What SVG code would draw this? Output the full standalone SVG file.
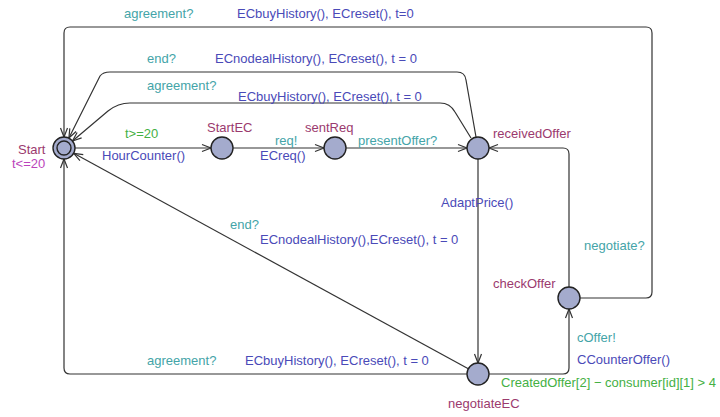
<svg xmlns="http://www.w3.org/2000/svg" width="720" height="417" viewBox="0 0 720 417">
<style>
text{font-family:"Liberation Sans",Arial,sans-serif;font-size:13px}
.loc{fill:#9b3a6e}
.inv{fill:#bb44bb}
.sync{fill:#44a4a8}
.upd{fill:#4a4ab8}
.grd{fill:#44b044}
.edge{fill:none;stroke:#333;stroke-width:1.2}
.node{fill:#a4abcd;stroke:#222;stroke-width:1.4}
</style>
<defs>
<marker id="arr" markerWidth="12" markerHeight="10" refX="0" refY="0" viewBox="-10 -5 12 10" orient="auto" markerUnits="userSpaceOnUse">
<path d="M-9,-3.5 L0,0 L-9,3.5" fill="none" stroke="#333" stroke-width="1.2"/>
</marker>
</defs>
<rect width="720" height="417" fill="#fff"/>
<g id="connectors">
<path class="edge" marker-end="url(#arr)" d="M580,298 L646,298 Q652,298 652,292 L652,33 Q652,27 646,27 L70,27 Q64,27 64,33 L64,137"/>
<path class="edge" marker-end="url(#arr)" d="M476,137 L466,80 Q465,72 457,72 L110,72 Q103,72 100,76 L68.9,138"/>
<path class="edge" marker-end="url(#arr)" d="M471,138 L455,112 Q450,103 440,103 L130,103 Q118,103 108,111 L72.5,141"/>
<path class="edge" marker-end="url(#arr)" d="M75,148 L211,148"/>
<path class="edge" marker-end="url(#arr)" d="M233,148 L324,148"/>
<path class="edge" marker-end="url(#arr)" d="M346,148 L467,148"/>
<path class="edge" marker-end="url(#arr)" d="M569,287 L569,154 Q569,148 563,148 L489,148"/>
<path class="edge" marker-end="url(#arr)" d="M478,159 L478,363"/>
<path class="edge" marker-end="url(#arr)" d="M468.3,368.7 L73.7,153.3"/>
<path class="edge" marker-end="url(#arr)" d="M467,374 L70,374 Q64,374 64,368 L64,159"/>
<path class="edge" marker-end="url(#arr)" d="M489,374 L563,374 Q569,374 569,368 L569,309"/>
</g>
<g id="labels">
<text x="124" y="18" class="sync">agreement?</text>
<text x="237" y="18" class="upd">ECbuyHistory(), ECreset(), t=0</text>
<text x="147" y="63" class="sync">end?</text>
<text x="215" y="63" class="upd">ECnodealHistory(), ECreset(),  t = 0</text>
<text x="147" y="90" class="sync">agreement?</text>
<text x="238" y="101" class="upd">ECbuyHistory(), ECreset(),  t = 0</text>
<text x="125" y="138" class="grd">t&gt;=20</text>
<text x="102" y="160" class="upd">HourCounter()</text>
<text x="275" y="145" class="sync">req!</text>
<text x="260" y="160" class="upd">ECreq()</text>
<text x="358" y="145" class="sync">presentOffer?</text>
<text x="441" y="207" class="upd">AdaptPrice()</text>
<text x="230" y="229" class="sync">end?</text>
<text x="260" y="244" class="upd">ECnodealHistory(),ECreset(), t = 0</text>
<text x="584" y="250" class="sync">negotiate?</text>
<text x="577" y="342" class="sync">cOffer!</text>
<text x="577" y="364" class="upd">CCounterOffer()</text>
<text x="147" y="365" class="sync">agreement?</text>
<text x="245" y="365" class="upd">ECbuyHistory(), ECreset(), t = 0</text>
<text x="501" y="387" class="grd" textLength="215" lengthAdjust="spacingAndGlyphs">CreatedOffer[2] − consumer[id][1] &gt; 4</text>
</g>
<g id="Start">
<circle class="node" cx="64" cy="148" r="11"/>
<circle cx="64" cy="148" r="7" fill="none" stroke="#222" stroke-width="1.4"/>
<text x="18" y="154" class="loc">Start</text>
<text x="12" y="168" class="inv">t&lt;=20</text>
</g>
<g id="StartEC">
<circle class="node" cx="222" cy="148" r="11"/>
<text x="207" y="132" class="loc">StartEC</text>
</g>
<g id="sentReq">
<circle class="node" cx="335" cy="148" r="11"/>
<text x="305" y="132" class="loc">sentReq</text>
</g>
<g id="receivedOffer">
<circle class="node" cx="478" cy="148" r="11"/>
<text x="493" y="138" class="loc">receivedOffer</text>
</g>
<g id="checkOffer">
<circle class="node" cx="569" cy="298" r="11"/>
<text x="493" y="288" class="loc">checkOffer</text>
</g>
<g id="negotiateEC">
<circle class="node" cx="478" cy="374" r="11"/>
<text x="448" y="408" class="loc">negotiateEC</text>
</g>
</svg>
